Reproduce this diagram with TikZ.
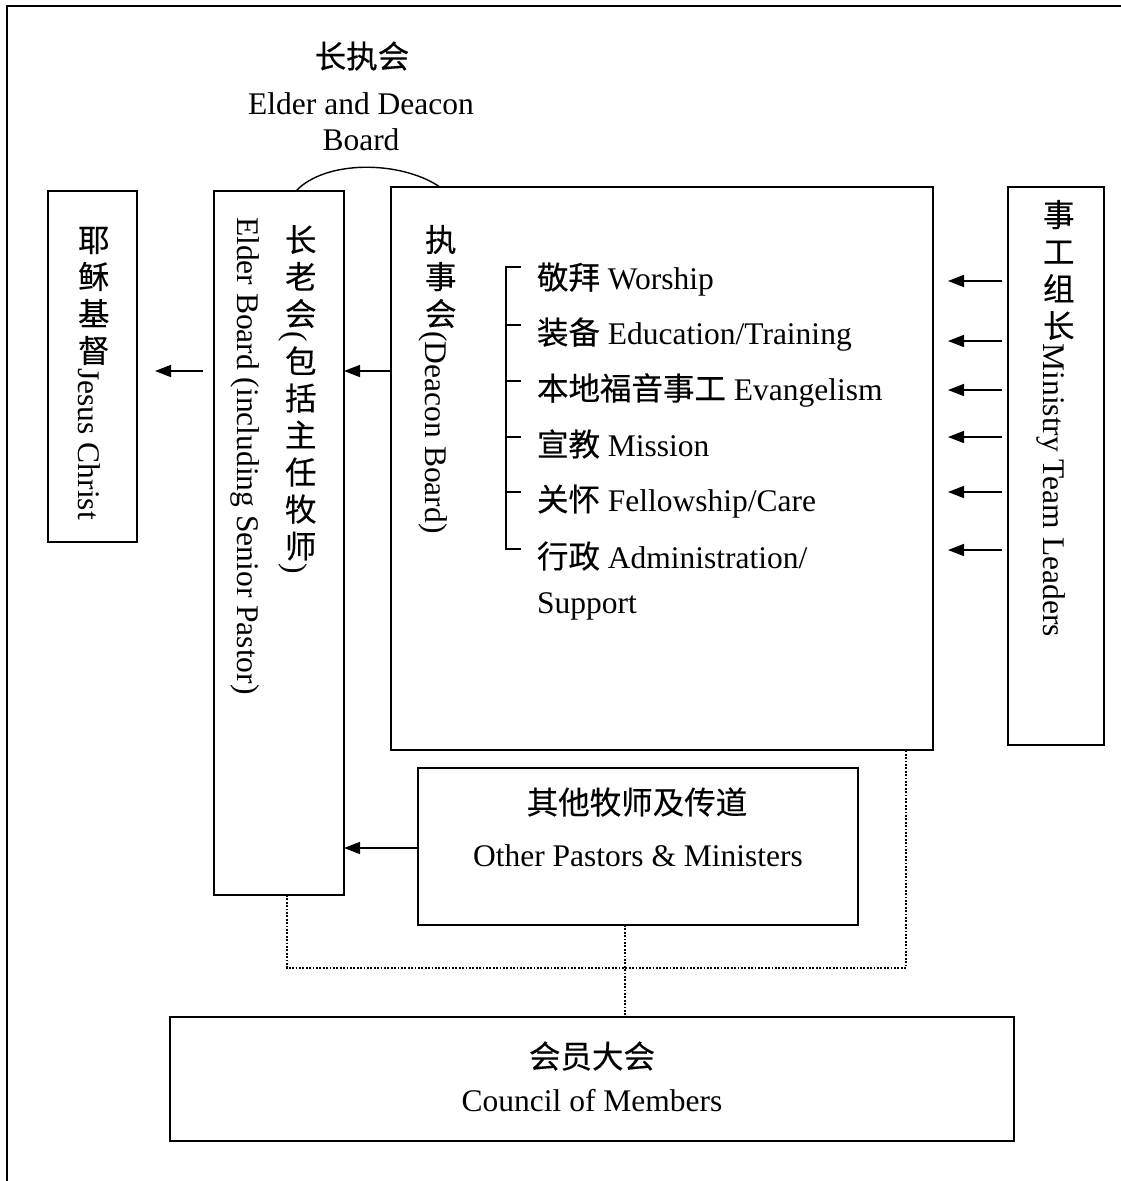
\documentclass[tikz,border=0pt]{standalone}
\usepackage{fontspec}
\setmainfont{Liberation Serif}
\newfontfamily\cjk[FakeBold=0.3]{Noto Sans CJK SC}
\usetikzlibrary{arrows.meta}
\newcommand\vc[1]{\rotatebox{90}{\raisebox{0pt}[31pt][6pt]{\cjk #1}}}
\begin{document}
\begin{tikzpicture}[x=1pt,y=-1pt,
  every node/.style={font=\fontsize{31.5}{38}\selectfont, inner sep=0pt, outer sep=0pt},
  box/.style={draw, line width=1.6pt, anchor=north west},
  vtext/.style={rotate=-90, anchor=base west},
  ltext/.style={anchor=base west},
  ctext/.style={anchor=base},
  arr/.style={line width=1.6pt, -{Triangle[length=16pt,width=12pt]}},
  dotline/.style={line width=1.8pt, dash pattern=on 1.8pt off 1.6pt}]
\useasboundingbox (0,0) rectangle (1121,1181);
% outer frame (top and left only)
\draw[line width=2pt] (7,1181) -- (7,6) -- (1121,6);

% boxes
\node[box, minimum width=89pt, minimum height=351pt] (jesus) at (48,191) {};
\node[box, minimum width=130pt, minimum height=704pt] (elder) at (214,191) {};
\node[box, minimum width=542pt, minimum height=563pt] (deacon) at (391,187) {};
\node[box, minimum width=96pt, minimum height=558pt] (ministry) at (1008,187) {};
\node[box, minimum width=440pt, minimum height=157pt] (other) at (418,768) {};
\node[box, minimum width=844pt, minimum height=124pt] (council) at (170,1017) {};

% title
\node[ctext] (t1) at (362,68) {\cjk 长执会};
\node[ctext] (t2) at (361,114) {Elder and Deacon};
\node[ctext] (t3) at (361,150) {Board};
\draw[line width=1.4pt] (elder.north -| 296,0) .. controls (325,160) and (400,160) .. (deacon.north -| 440,0);

% vertical texts
\node[vtext] (jesustext) at (78,220.5) {\vc{耶}\vc{稣}\vc{基}\vc{督}Jesus Christ};
\node[vtext] (eldercn) at (285,220.5) {\vc{长}\vc{老}\vc{会}(\vc{包}\vc{括}\vc{主}\vc{任}\vc{牧}\vc{师})};
\node[vtext] (elderen) at (237,217) {Elder Board (including Senior Pastor)};
\node[vtext] (deacontext) at (425,220.5) {\vc{执}\vc{事}\vc{会}(Deacon Board)};
\node[vtext] (mintext) at (1043,195.5) {\vc{事}\vc{工}\vc{组}\vc{长}Ministry Team Leaders};

% deacon list
\draw[line width=1.4pt] (521,267) -- (506,267) -- (506,549) -- (521,549);
\foreach \yy in {325,381,437,492} \draw[line width=1.4pt] (506,\yy) -- (521,\yy);
\node[ltext] (l1) at (537,289) {{\cjk 敬拜} Worship};
\node[ltext] (l2) at (537,344) {{\cjk 装备} Education/Training};
\node[ltext] (l3) at (537,400) {{\cjk 本地福音事工} Evangelism};
\node[ltext] (l4) at (537,456) {{\cjk 宣教} Mission};
\node[ltext] (l5) at (537,511) {{\cjk 关怀} Fellowship/Care};
\node[ltext] (l6) at (537,568) {{\cjk 行政} Administration/};
\node[ltext] (l7) at (537,613) {Support};

% other pastors
\node[ctext] (o1) at (637,814) {\cjk 其他牧师及传道};
\node[ctext] (o2) at (638,866) {Other Pastors \& Ministers};

% council
\node[ctext] (c1) at (592,1068) {\cjk 会员大会};
\node[ctext] (c2) at (592,1111) {Council of Members};

% arrows
\draw[arr, shorten <=11pt, shorten >=18pt] (elder.west |- 0,371) -- (jesus.east |- 0,371);
\draw[arr] (deacon.west |- 0,371) -- (elder.east |- 0,371);
\draw[arr] (other.west |- 0,848) -- (elder.east |- 0,848);
\foreach \yy in {281,341,390,437,492,550}
  \draw[arr, shorten <=6pt, shorten >=15pt] (ministry.west |- 0,\yy) -- (deacon.east |- 0,\yy);

% dotted connections
\draw[dotline] (elder.south -| 287,0) -- (287,968) -- (906,968) -- (deacon.south -| 906,0);
\draw[dotline] (other.south -| 625,0) -- (council.north -| 625,0);
\end{tikzpicture}
\end{document}
